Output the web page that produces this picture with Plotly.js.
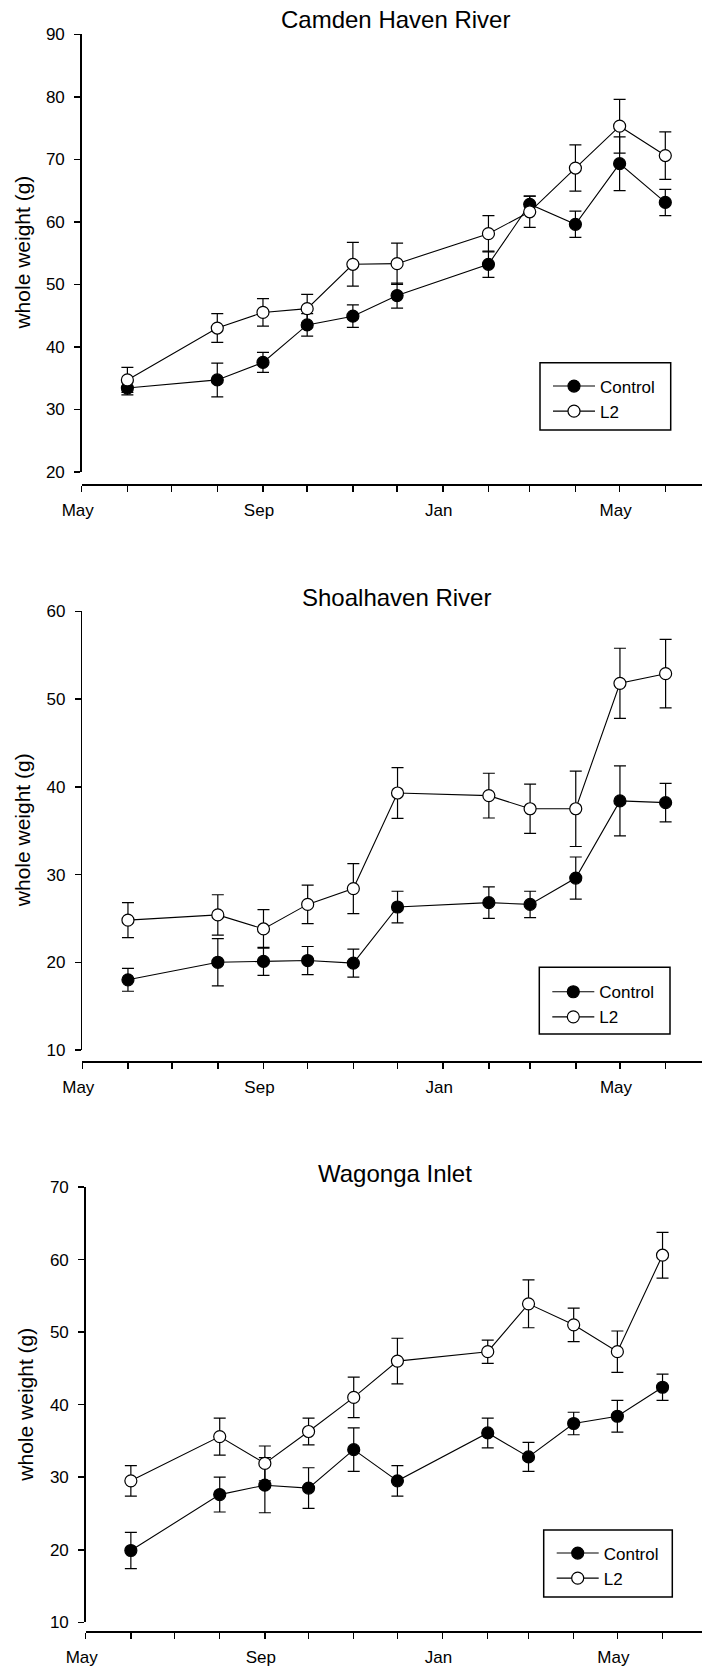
<!DOCTYPE html>
<html>
<head>
<meta charset="utf-8">
<script src="https://cdn.plot.ly/plotly-3.0.1.min.js"></script>
<style>html,body{margin:0;padding:0;background:#fff;}#chart{width:702px;height:1667px;}</style>
</head>
<body>
<div id="chart"></div>
<script>
// Sampling dates (month starts)
const sampleDates = ['2002-06-01','2002-08-01','2002-09-01','2002-10-01','2002-11-01','2002-12-01',
                     '2003-02-01','2003-03-01','2003-04-01','2003-05-01','2003-06-01'];
const panelTitles = ['Camden Haven River','Shoalhaven River','Wagonga Inlet'];
const seriesNames = ['Control','L2'];
const yLabel = 'whole weight (g)';

// Camden Haven River
const camdenControl    = [33.4, 34.7, 37.5, 43.5, 44.9, 48.2, 53.2, 62.8, 59.6, 69.3, 63.1];
const camdenControlErr = [1.1, 2.7, 1.6, 1.8, 1.8, 2.0, 2.1, 1.3, 2.1, 4.3, 2.1];
const camdenL2         = [34.7, 43.0, 45.5, 46.1, 53.2, 53.3, 58.1, 61.6, 68.6, 75.3, 70.6];
const camdenL2Err      = [2.0, 2.3, 2.2, 2.3, 3.5, 3.3, 2.9, 2.5, 3.7, 4.3, 3.8];

// Shoalhaven River
const shoalControl     = [18.0, 20.0, 20.1, 20.2, 19.9, 26.3, 26.8, 26.6, 29.6, 38.4, 38.2];
const shoalControlErr  = [1.3, 2.7, 1.6, 1.6, 1.6, 1.8, 1.8, 1.5, 2.4, 4.0, 2.2];
const shoalL2          = [24.8, 25.4, 23.8, 26.6, 28.4, 39.3, 39.0, 37.5, 37.5, 51.8, 52.9];
const shoalL2Err       = [2.0, 2.3, 2.2, 2.2, 2.85, 2.9, 2.55, 2.8, 4.3, 4.0, 3.9];

// Wagonga Inlet
const wagControl       = [19.9, 27.6, 28.9, 28.5, 33.8, 29.5, 36.1, 32.8, 37.4, 38.4, 42.4];
const wagControlErr    = [2.5, 2.4, 3.8, 2.8, 3.0, 2.1, 2.05, 2.0, 1.55, 2.2, 1.8];
const wagL2            = [29.5, 35.6, 31.9, 36.3, 41.0, 46.0, 47.3, 53.9, 51.0, 47.3, 60.6];
const wagL2Err         = [2.1, 2.55, 2.4, 1.85, 2.8, 3.15, 1.6, 3.3, 2.3, 2.85, 3.15];

const yRanges = [[20, 90], [10, 60], [10, 70]];

const W = 702, H = 1667;
const FONT = 'Liberation Sans, Arial, Helvetica, sans-serif';
const fx = px => px / W;
const fy = py => 1 - py / H;

// panel geometry (pixels)
const panels = [
  {axL: 81.7, yTop: 34.3,  yBot: 471.8,  xAxisY: 484.3,  xEnd: '2003-06-25 21:36', titleY: 19.7,   titleX: 395.5, yTitleX: 22.5,
   box: [540.0, 362.7, 670.7, 430.0], row1: 385.0},
  {axL: 82.3, yTop: 611.4, yBot: 1050.0, xAxisY: 1061.0, xEnd: '2003-06-25 16:48', titleY: 597.5,  titleX: 396,   yTitleX: 22.5,
   box: [539.3, 967.3, 670.0, 1034.0], row1: 990.7},
  {axL: 85.7, yTop: 1187,  yBot: 1622.3, xAxisY: 1631.0, xEnd: '2003-06-28 02:24', titleY: 1173.7, titleX: 394.6, yTitleX: 26,
   box: [543.7, 1530.0, 672.3, 1597.0], row1: 1552.0}
];

const data = [
  [camdenControl, camdenControlErr, camdenL2, camdenL2Err],
  [shoalControl, shoalControlErr, shoalL2, shoalL2Err],
  [wagControl, wagControlErr, wagL2, wagL2Err]
];

const traces = [];
const layout = {
  width: W, height: H,
  margin: {l: 0, r: 0, t: 0, b: 0, pad: 0},
  paper_bgcolor: '#fff', plot_bgcolor: 'rgba(0,0,0,0)',
  font: {family: FONT, color: '#000', size: 17},
  showlegend: true,
  annotations: [],
  shapes: []
};

panels.forEach((p, i) => {
  const n = i === 0 ? '' : String(i + 1);
  const xa = 'x' + n, ya = 'y' + n;
  const legName = 'legend' + n;
  const [c, ce, l, le] = data[i];
  const common = {
    x: sampleDates, xaxis: xa, yaxis: ya, mode: 'lines+markers', type: 'scatter',
    legend: legName, cliponaxis: false,
    line: {color: '#000', width: 1.1},
  };
  traces.push(Object.assign({}, common, {
    name: seriesNames[0], y: c,
    error_y: {type: 'data', array: ce, visible: true, color: '#000', thickness: 1.2, width: 6},
    marker: {symbol: 'circle', size: 12, color: '#000', line: {color: '#000', width: 1.2}}
  }));
  traces.push(Object.assign({}, common, {
    name: seriesNames[1], y: l,
    error_y: {type: 'data', array: le, visible: true, color: '#000', thickness: 1.2, width: 6},
    marker: {symbol: 'circle', size: 12, color: '#fff', line: {color: '#000', width: 1.2}}
  }));

  layout['xaxis' + n] = {
    type: 'date',
    domain: [fx(p.axL), 1],
    anchor: 'free', position: fy(p.xAxisY),
    range: ['2002-05-01', p.xEnd],
    tick0: '2002-05-01', dtick: 'M4', tickformat: '%b',
    ticks: 'outside', ticklen: 6, tickwidth: 1.5, tickcolor: '#000',
    minor: {dtick: 'M1', ticks: 'outside', ticklen: 6, tickwidth: 1.5, tickcolor: '#000', showgrid: false},
    showline: true, linecolor: '#000', linewidth: 1.5,
    showgrid: false, zeroline: false,
    tickfont: {family: FONT, size: 17, color: '#000'},
    ticklabelshift: -4, ticklabelstandoff: 4,
    fixedrange: true
  };
  layout['yaxis' + n] = {
    domain: [fy(p.yBot), fy(p.yTop)],
    anchor: xa,
    range: yRanges[i], dtick: 10, tick0: 0,
    ticks: 'outside', ticklen: 6, tickwidth: 1.5, tickcolor: '#000',
    showline: true, linecolor: '#000', linewidth: 1.5,
    showgrid: false, zeroline: false,
    tickfont: {family: FONT, size: 17, color: '#000'},
    ticklabelstandoff: 6,
    fixedrange: true
  };
  // legend frame
  layout.shapes.push({
    type: 'rect', xref: 'paper', yref: 'paper', layer: 'above',
    x0: fx(p.box[0]), x1: fx(p.box[2]), y0: fy(p.box[3]), y1: fy(p.box[1]),
    line: {color: '#000', width: 1.5}, fillcolor: '#fff'
  });
  layout[legName] = {
    x: fx(p.box[0] + 8), xanchor: 'left', xref: 'paper',
    y: fy(p.row1 - 16.5), yanchor: 'top', yref: 'paper',
    bgcolor: 'rgba(0,0,0,0)', bordercolor: '#000', borderwidth: 0,
    font: {family: FONT, size: 17, color: '#000'},
    traceorder: 'normal', itemwidth: 42
  };
  layout.annotations.push({
    text: panelTitles[i], xref: 'paper', yref: 'paper',
    x: fx(p.titleX), y: fy(p.titleY), xanchor: 'center', yanchor: 'middle',
    showarrow: false, font: {family: FONT, size: 24, color: '#000'}
  });
  layout.annotations.push({
    text: yLabel, xref: 'paper', yref: 'paper', textangle: -90,
    x: fx(p.yTitleX), y: fy((p.yTop + p.yBot) / 2), xanchor: 'center', yanchor: 'middle',
    showarrow: false, font: {family: FONT, size: 21, color: '#000'}
  });
});

Plotly.newPlot('chart', traces, layout, {displayModeBar: false, staticPlot: true});
</script>
</body>
</html>
